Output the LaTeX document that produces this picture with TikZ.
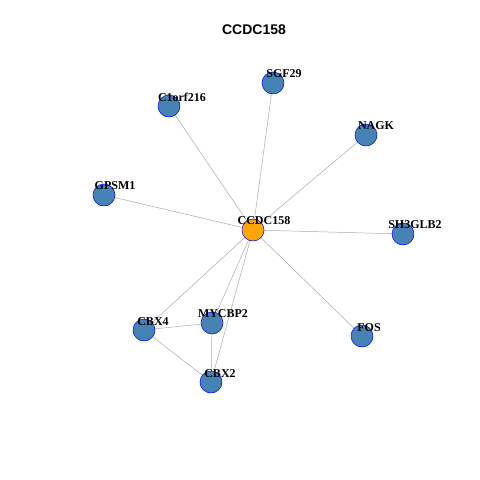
\documentclass[tikz,border=0pt]{standalone}
\usepackage{fontspec}
\setmainfont{Liberation Serif}
\newfontfamily\titlefont{Liberation Sans}
\usetikzlibrary{backgrounds}
\begin{document}
\begin{tikzpicture}[x=1pt,y=-1pt,
  gnode/.style={circle,draw=blue,fill={rgb,255:red,70;green,130;blue,180},minimum size=22pt,inner sep=0pt,line width=0.5pt},
  hub/.style={gnode,fill={rgb,255:red,255;green,165;blue,0}},
  lab/.style={font=\fontsize{12}{12}\selectfont\bfseries,inner sep=0pt},
  edge/.style={draw={rgb,255:red,170;green,170;blue,170},line width=0.5pt}]
\useasboundingbox (0,0) rectangle (480,480);
\node[font=\titlefont\fontsize{14}{14}\selectfont\bfseries] (title) at (254,30) {CCDC158};
\node[hub] (ccdc) at (253,230) {};
\node[gnode] (sgf) at (273,83) {};
\node[gnode] (c1) at (169,106) {};
\node[gnode] (nagk) at (366,135) {};
\node[gnode] (gpsm) at (104,195) {};
\node[gnode] (sh3) at (403,234) {};
\node[gnode] (cbx4) at (144,330) {};
\node[gnode] (myc) at (212,323) {};
\node[gnode] (fos) at (362,336) {};
\node[gnode] (cbx2) at (211,382) {};
\begin{scope}[on background layer]
\foreach \n in {sgf,c1,nagk,gpsm,sh3,cbx4,myc,fos,cbx2}
  \draw[edge] (ccdc.center) -- (\n.center);
\draw[edge] (cbx4.center) -- (myc.center);
\draw[edge] (cbx4.center) -- (cbx2.center);
\draw[edge] (myc.center) -- (cbx2.center);
\end{scope}
\node[lab] (lccdc) at ([shift={(11,-9)}]ccdc.center) {CCDC158};
\node[lab] (lsgf) at ([shift={(11,-9)}]sgf.center) {SGF29};
\node[lab] (lc1) at ([shift={(13,-9)}]c1.center) {C1orf216};
\node[lab] (lnagk) at ([shift={(10,-9)}]nagk.center) {NAGK};
\node[lab] (lgpsm) at ([shift={(11,-9)}]gpsm.center) {GPSM1};
\node[lab] (lsh3) at ([shift={(12,-9)}]sh3.center) {SH3GLB2};
\node[lab] (lcbx4) at ([shift={(9,-8)}]cbx4.center) {CBX4};
\node[lab] (lmyc) at ([shift={(11,-9)}]myc.center) {MYCBP2};
\node[lab] (lfos) at ([shift={(7,-8)}]fos.center) {FOS};
\node[lab] (lcbx2) at ([shift={(9,-8)}]cbx2.center) {CBX2};
\end{tikzpicture}
\end{document}
